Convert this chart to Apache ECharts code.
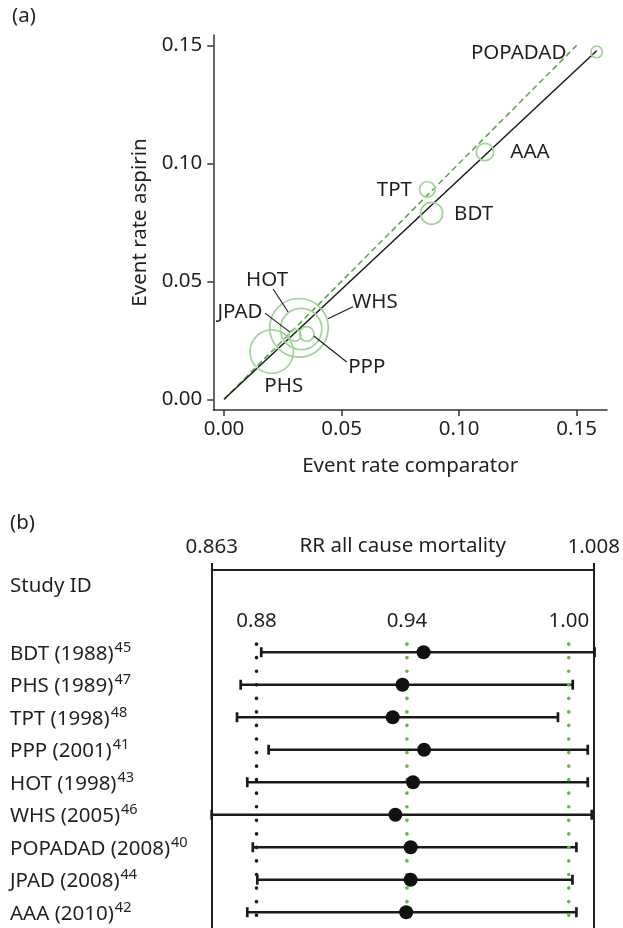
<!DOCTYPE html>
<html><head><meta charset="utf-8">
<script src="https://cdn.jsdelivr.net/npm/echarts@6/dist/echarts.min.js"></script>
<style>html,body{margin:0;padding:0;background:#fff}#c{width:623px;height:928px}</style>
</head><body><div id="c"></div>
<script>
// ---------- Panel (a): event rates ----------
const studiesA = ['BDT', 'PHS', 'TPT', 'PPP', 'HOT', 'WHS', 'POPADAD', 'JPAD', 'AAA'];
const rateComparator = [0.0883, 0.0203, 0.0865, 0.0352, 0.0328, 0.0319, 0.1585, 0.0302, 0.1110];
const rateAspirin = [0.0788, 0.0202, 0.0890, 0.0277, 0.0298, 0.0303, 0.1472, 0.0272, 0.1048];
const studyWeight = [14.1, 54.8, 7.1, 6.2, 49.9, 100, 3.9, 4.2, 8.8];
const equalityEnds = [0, 0.15];
const fitSlope = 0.932;
const fitXEnd = 0.1585;
const ticksA = [0, 0.05, 0.10, 0.15];

// ---------- Panel (b): RR all cause mortality ----------
const studiesB = ['BDT', 'PHS', 'TPT', 'PPP', 'HOT', 'WHS', 'POPADAD', 'JPAD', 'AAA'];
const yearsB = [1988, 1989, 1998, 2001, 1998, 2005, 2008, 2008, 2010];
const refsB = [45, 47, 48, 41, 43, 46, 40, 44, 42];
const rrEst = [0.9434, 0.9354, 0.9317, 0.9436, 0.9394, 0.9327, 0.9385, 0.9385, 0.9368];
const rrLow = [0.8818, 0.8740, 0.8726, 0.8846, 0.8765, 0.8630, 0.8786, 0.8803, 0.8765];
const rrHigh = [1.0083, 1.0000, 0.9944, 1.0057, 1.0057, 1.0072, 1.0014, 0.9999, 1.0014];
const pooledLow = 0.880;
const pooledEst = 0.9371;
const pooledHigh = 0.9985;
const rrAxisEnds = [0.863, 1.008];

// ---------- styles ----------
const TXT = '#231f20';
const FONT = 'Noto Sans';
const FS = 20.5;
const GREEN_LINE = '#55b04a';
const GREEN_CIRCLE = '#a0d498';
const GREEN_DOT = '#5dbb46';
const maxBubble = 58.6;
// label offsets (px) from circle centre
const labelOffsetA = {
  BDT: [42, 1], PHS: [12, 35], TPT: [-33, 1], PPP: [60, 33], HOT: [-34, -49],
  WHS: [76, -26], POPADAD: [-78, 1], JPAD: [-55, -23], AAA: [45, 0]
};
// leader lines (px offsets from circle centre: [near label], [near circle])
const leaderA = {
  HOT: [[-28, -40], [-13, -17]],
  JPAD: [[-30, -22], [-5, -3]],
  WHS: [[54, -21], [29, -9]],
  PPP: [[40, 28], [7, 2]]
};

const chart = echarts.init(document.getElementById('c'), null, { renderer: 'canvas' });

const bubbleData = studiesA.map((s, i) => ({
  name: s,
  value: [rateComparator[i], rateAspirin[i]],
  symbolSize: maxBubble * Math.sqrt(studyWeight[i] / 100),
  label: { offset: labelOffsetA[s] }
}));
const leaderData = studiesA.map((s, i) => [rateComparator[i], rateAspirin[i], i]).filter(d => leaderA[studiesA[d[2]]]);

const rowsB = studiesB.map((s, i) => i);
const refLines = [
  { v: pooledLow, color: '#1a1a1a' },
  { v: pooledEst, color: GREEN_DOT },
  { v: pooledHigh, color: GREEN_DOT }
];
const rowMin = -2.53, rowMax = -2.53 + 358 / 32.5;
const dotTop = -0.25;

const axisCommonA = {
  axisLine: { show: true, onZero: false, lineStyle: { color: '#333', width: 1.5 } },
  axisTick: { show: true, customValues: ticksA, length: 6, lineStyle: { color: '#333', width: 1.5 } },
  axisLabel: { customValues: ticksA, formatter: v => v.toFixed(2), fontSize: FS, color: TXT, fontFamily: FONT },
  splitLine: { show: false },
  nameLocation: 'middle',
  nameTextStyle: { fontSize: FS, color: TXT, fontFamily: FONT }
};
const boxSide = { show: true, onZero: false, lineStyle: { color: TXT, width: 2 } };

const option = {
  animation: false,
  backgroundColor: '#fff',
  textStyle: { fontFamily: FONT, color: TXT },
  grid: [
    { left: 213.3, top: 35, width: 393.7, height: 375 },
    { left: 211.7, top: 570, width: 385.6, height: 358 }
  ],
  xAxis: [
    Object.assign({}, axisCommonA, {
      type: 'value', gridIndex: 0, min: -0.00455, max: 0.1629,
      name: 'Event rate comparator', nameGap: 46,
      axisLabel: Object.assign({}, axisCommonA.axisLabel, { margin: 9 })
    }),
    {
      type: 'value', gridIndex: 1, position: 'top', min: rrAxisEnds[0], max: rrAxisEnds[1],
      axisLine: boxSide,
      axisTick: { show: true, customValues: rrAxisEnds, length: 7, lineStyle: { color: TXT, width: 2 } },
      axisLabel: { customValues: rrAxisEnds, formatter: v => v.toFixed(3), fontSize: FS, color: TXT, margin: 12, fontFamily: FONT },
      splitLine: { show: false },
      name: 'RR all cause mortality', nameLocation: 'middle', nameGap: 13, nameMoveOverlap: false,
      nameTextStyle: { fontSize: FS, color: TXT, fontFamily: FONT }
    }
  ],
  yAxis: [
    Object.assign({}, axisCommonA, {
      type: 'value', gridIndex: 0, min: -0.00453, max: 0.1544,
      name: 'Event rate aspirin', nameGap: 63,
      axisLabel: Object.assign({}, axisCommonA.axisLabel, { margin: 11 })
    }),
    {
      type: 'value', gridIndex: 1, inverse: true, min: rowMin, max: rowMax, position: 'left',
      axisLine: boxSide, axisTick: { show: false }, splitLine: { show: false },
      axisLabel: {
        customValues: rowsB, align: 'left', margin: 201.7,
        formatter: v => `{n|${studiesB[v]} (${yearsB[v]})}{s|${refsB[v]}}`,
        rich: {
          n: { fontSize: FS, color: TXT, fontFamily: FONT, lineHeight: 24, verticalAlign: 'bottom' },
          s: { fontSize: 14.5, color: TXT, fontFamily: FONT, lineHeight: 14, verticalAlign: 'top', padding: [0, 0, 0, 1] }
        }
      }
    },
    {
      type: 'value', gridIndex: 1, inverse: true, min: rowMin, max: rowMax, position: 'right',
      axisLine: boxSide, axisTick: { show: false }, axisLabel: { show: false }, splitLine: { show: false }
    }
  ],
  graphic: [
    { type: 'text', left: 12, top: 6, style: { text: '(a)', font: `${FS}px "${FONT}"`, fill: TXT } },
    { type: 'text', left: 10, top: 513, style: { text: '(b)', font: `${FS}px "${FONT}"`, fill: TXT } },
    { type: 'text', left: 10, top: 576, style: { text: 'Study ID', font: `${FS}px "${FONT}"`, fill: TXT } }
  ],
  series: [
    {
      type: 'line', xAxisIndex: 0, yAxisIndex: 0, showSymbol: false, silent: true,
      data: [[equalityEnds[0], equalityEnds[0]], [equalityEnds[1], equalityEnds[1]]],
      lineStyle: { color: GREEN_LINE, width: 1.6, type: [6, 3.5] }, z: 2
    },
    {
      type: 'line', xAxisIndex: 0, yAxisIndex: 0, showSymbol: false, silent: true,
      data: [[0, 0], [fitXEnd, fitSlope * fitXEnd]],
      lineStyle: { color: '#1a1a1a', width: 1.5 }, z: 2
    },
    {
      type: 'scatter', xAxisIndex: 0, yAxisIndex: 0, symbol: 'circle',
      data: bubbleData,
      itemStyle: { color: 'rgba(0,0,0,0)', borderColor: GREEN_CIRCLE, borderWidth: 1.7, opacity: 1 },
      label: { show: true, position: 'inside', formatter: p => p.name, fontSize: FS, color: TXT, fontFamily: FONT },
      z: 3
    },
    {
      type: 'custom', xAxisIndex: 0, yAxisIndex: 0, silent: true, clip: false,
      data: leaderData,
      encode: { x: 0, y: 1 },
      renderItem: (params, api) => {
        const c = api.coord([api.value(0), api.value(1)]);
        const seg = leaderA[studiesA[api.value(2)]];
        return {
          type: 'line',
          shape: { x1: c[0] + seg[0][0], y1: c[1] + seg[0][1], x2: c[0] + seg[1][0], y2: c[1] + seg[1][1] },
          style: { stroke: '#1a1a1a', lineWidth: 1.1 }
        };
      },
      z: 4
    },
    {
      type: 'custom', xAxisIndex: 1, yAxisIndex: 1, clip: false,
      data: rowsB.map(i => [i, rrLow[i], rrHigh[i]]),
      encode: { x: [1, 2], y: 0 },
      renderItem: (params, api) => {
        const i = api.value(0);
        const a = api.coord([api.value(1), i]);
        const b = api.coord([api.value(2), i]);
        const h = 5;
        const st = { stroke: '#1a1a1a', lineWidth: 2.7 };
        return {
          type: 'group', children: [
            { type: 'line', shape: { x1: a[0], y1: a[1], x2: b[0], y2: b[1] }, style: st },
            { type: 'line', shape: { x1: a[0], y1: a[1] - h, x2: a[0], y2: a[1] + h }, style: st },
            { type: 'line', shape: { x1: b[0], y1: b[1] - h, x2: b[0], y2: b[1] + h }, style: st }
          ]
        };
      },
      z: 3
    },
    ...refLines.map(r => ({
      type: 'line', xAxisIndex: 1, yAxisIndex: 1, showSymbol: false, silent: true,
      data: [[r.v, dotTop], [r.v, rowMax]],
      lineStyle: { color: r.color, width: 3.6, type: [0.1, 13.45], cap: 'round' }, z: 4
    })),
    {
      type: 'scatter', xAxisIndex: 1, yAxisIndex: 1, symbolSize: 0, silent: true,
      data: refLines.map(r => [r.v, dotTop]),
      itemStyle: { opacity: 1 },
      label: { show: true, position: 'top', distance: 12, formatter: p => p.value[0].toFixed(2), fontSize: FS, color: TXT, fontFamily: FONT },
      z: 5
    },
    {
      type: 'scatter', xAxisIndex: 1, yAxisIndex: 1, symbol: 'circle', symbolSize: 14,
      data: rowsB.map(i => [rrEst[i], i]),
      itemStyle: { color: '#111', opacity: 1 }, z: 6
    }
  ]
};
chart.setOption(option);
</script>
</body></html>
